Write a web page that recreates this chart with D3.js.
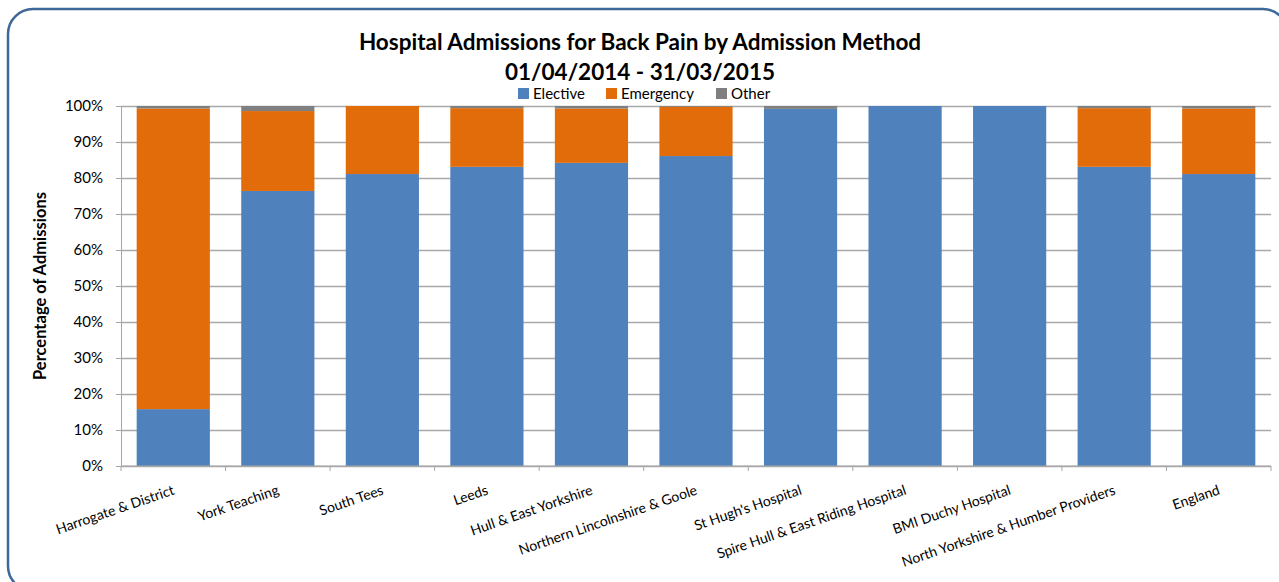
<!DOCTYPE html>
<meta charset="utf-8">
<style>
    body { margin: 0; background: #fff; }
    text { font-family: Lato, "Open Sans", sans-serif; fill: #000; }
    .grid line { stroke: #a9a9a9; stroke-width: 1.3px; }
    .grid path { stroke: none; }
    .axis path, .axis line { stroke: #a6a6a6; }
</style>

<svg width="1279" height="582"></svg>
<script src="https://d3js.org/d3.v7.min.js"></script>
<script>

    var categories = ["Harrogate & District", "York Teaching", "South Tees", "Leeds",
        "Hull & East Yorkshire", "Northern Lincolnshire & Goole", "St Hugh's Hospital",
        "Spire Hull & East Riding Hospital", "BMI Duchy Hospital",
        "North Yorkshire & Humber Providers", "England"];
    var series = ["Elective", "Emergency", "Other"];
    var elective = [15.8, 76.4, 81.1, 83.1, 84.2, 86.1, 99.2, 100, 100, 83.1, 81.1];
    var emergency = [83.5, 22.2, 18.9, 16.3, 15.1, 13.7, 0, 0, 0, 16.3, 18.2];
    var other = [0.7, 1.4, 0, 0.6, 0.7, 0.2, 0.8, 0, 0, 0.6, 0.7];
    var yTicks = [0, 10, 20, 30, 40, 50, 60, 70, 80, 90, 100];
    var colors = ["#4f81bd", "#e36c0a", "#7f7f7f"];

    var data = categories.map(function (c, i) {
        return { cat: c, Elective: elective[i], Emergency: emergency[i], Other: other[i] };
    });

    var svg = d3.select("svg");

    // outer frame (runs off the right and bottom edges)
    svg.append("rect")
        .attr("x", 8).attr("y", 9)
        .attr("width", 1280).attr("height", 582)
        .attr("rx", 25).attr("ry", 25)
        .attr("fill", "none")
        .attr("stroke", "#3e6898")
        .attr("stroke-width", 2.5);

    var margin = { left: 121, top: 106, right: 8, bottom: 116 };
    var width = 1279 - margin.left - margin.right;
    var height = 582 - margin.top - margin.bottom;

    var g = svg.append("g")
        .attr("transform", "translate(" + margin.left + "," + margin.top + ")");

    var x = d3.scaleBand()
        .domain(categories)
        .range([0, width])
        .paddingInner(0.3)
        .paddingOuter(0.15);

    var y = d3.scaleLinear()
        .domain([0, 100])
        .range([height, 0]);

    g.append("g")
        .attr("class", "grid")
        .call(d3.axisLeft(y).tickValues(yTicks).tickSize(-width).tickFormat(""));

    var stack = d3.stack().keys(series);
    var layers = stack(data);

    g.append("g")
        .selectAll("g")
        .data(layers)
        .enter().append("g")
        .attr("fill", function (d, i) { return colors[i]; })
        .selectAll("rect")
        .data(function (d) { return d; })
        .enter().append("rect")
        .attr("x", function (d) { return x(d.data.cat); })
        .attr("y", function (d) { return y(d[1]); })
        .attr("height", function (d) { return y(d[0]) - y(d[1]); })
        .attr("width", x.bandwidth());

    // y axis
    var yAxis = g.append("g")
        .attr("class", "axis")
        .call(d3.axisLeft(y).tickValues(yTicks).tickSize(5).tickPadding(13)
            .tickFormat(function (d) { return d + "%"; }));
    yAxis.selectAll("text").style("font-size", "15px");

    // x axis with ticks between categories
    var xAxis = g.append("g")
        .attr("class", "axis")
        .attr("transform", "translate(0," + height + ")");
    xAxis.append("line")
        .attr("x1", 0).attr("x2", width)
        .attr("stroke", "#a6a6a6");
    var step = x.step();
    var edges = d3.range(categories.length + 1).map(function (i) {
        return i === 0 ? 0 : (i === categories.length ? width : x(categories[i - 1]) + x.bandwidth() + step * x.paddingInner() / 2);
    });
    xAxis.selectAll(".tk")
        .data(edges)
        .enter().append("line")
        .attr("x1", function (d) { return d; })
        .attr("x2", function (d) { return d; })
        .attr("y1", 0).attr("y2", 5)
        .attr("stroke", "#a6a6a6");

    xAxis.selectAll(".lbl")
        .data(categories)
        .enter().append("text")
        .attr("transform", function (d) {
            return "translate(" + (x(d) + x.bandwidth() / 2 + 2) + ",28) rotate(-19)";
        })
        .attr("text-anchor", "end")
        .style("font-size", "14px")
        .text(function (d) { return d; });

    // y axis title
    svg.append("text")
        .attr("transform", "translate(46," + (margin.top + height / 2) + ") rotate(-90)")
        .attr("text-anchor", "middle")
        .style("font-size", "16.5px")
        .style("font-weight", "bold")
        .text("Percentage of Admissions");

    // title
    var title = svg.append("text")
        .attr("x", 640)
        .attr("text-anchor", "middle")
        .style("font-size", "22.5px")
        .style("font-weight", "bold");
    title.append("tspan").attr("x", 640).attr("y", 50)
        .text("Hospital Admissions for Back Pain by Admission Method");
    title.append("tspan").attr("x", 640).attr("y", 80)
        .text("01/04/2014 - 31/03/2015");

    // legend
    var legendX = [518, 606, 716];
    var legend = svg.append("g")
        .selectAll("g")
        .data(series)
        .enter().append("g")
        .attr("transform", function (d, i) { return "translate(" + legendX[i] + ",88)"; });
    legend.append("rect")
        .attr("width", 11).attr("height", 11)
        .attr("fill", function (d, i) { return colors[i]; });
    legend.append("text")
        .attr("x", 15).attr("y", 11)
        .style("font-size", "15px")
        .text(function (d) { return d; });

</script>
